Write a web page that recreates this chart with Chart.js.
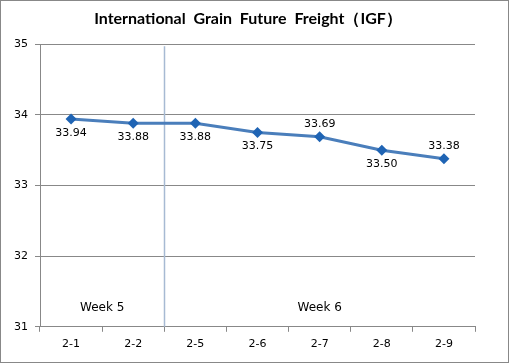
<!DOCTYPE html>
<html>
<head>
<meta charset="utf-8">
<script src="https://cdn.jsdelivr.net/npm/chart.js@4/dist/chart.umd.min.js"></script>
<style>
  html, body { margin: 0; padding: 0; background: #fff; }
  #wrap { position: relative; width: 509px; height: 363px; }
</style>
</head>
<body>
<div id="wrap"><canvas id="c" width="509" height="363"></canvas></div>
<script>
const categories = ['2-1', '2-2', '2-5', '2-6', '2-7', '2-8', '2-9'];
const igfValues = [33.94, 33.88, 33.88, 33.75, 33.69, 33.50, 33.38];
const yTicks = [31, 32, 33, 34, 35];
const labelSide = ['below', 'below', 'below', 'below', 'above', 'below', 'above'];
const weekLabels = ['Week 5', 'Week 6'];
const titleText = 'International  Grain  Future  Freight（IGF）';

const overlay = {
  id: 'overlay',
  beforeDraw(chart) {
    const ctx = chart.ctx;
    ctx.save();
    ctx.fillStyle = '#fff';
    ctx.fillRect(0, 0, chart.width, chart.height);
    ctx.restore();
  },
  beforeDatasetsDraw(chart) {
    const ctx = chart.ctx;
    const x = chart.scales.x, y = chart.scales.y;
    const sepX = (x.getPixelForValue(1) + x.getPixelForValue(2)) / 2;
    ctx.save();
    ctx.strokeStyle = '#a7bad3';
    ctx.lineWidth = 1.5;
    ctx.beginPath();
    ctx.moveTo(Math.round(sepX) + 0.5, y.getPixelForValue(35) + 2);
    ctx.lineTo(Math.round(sepX) + 0.5, y.getPixelForValue(31));
    ctx.stroke();
    ctx.fillStyle = '#000';
    ctx.font = '12px "DejaVu Sans", Verdana, sans-serif';
    ctx.textAlign = 'center';
    ctx.textBaseline = 'middle';
    const wy = y.getPixelForValue(31.27);
    ctx.fillText(weekLabels[0], (x.left + sepX) / 2, wy);
    ctx.fillText(weekLabels[1], (sepX + x.right) / 2, wy);
    ctx.restore();
  },
  afterDatasetsDraw(chart) {
    const ctx = chart.ctx;
    const meta = chart.getDatasetMeta(0);
    ctx.save();
    ctx.fillStyle = '#000';
    ctx.font = '11px "DejaVu Sans", Verdana, sans-serif';
    ctx.textAlign = 'center';
    ctx.textBaseline = 'middle';
    meta.data.forEach((pt, i) => {
      const dy = labelSide[i] === 'above' ? -13 : 14;
      ctx.fillText(igfValues[i].toFixed(2), pt.x, pt.y + dy);
    });
    ctx.restore();
  },
  afterDraw(chart) {
    const ctx = chart.ctx;
    ctx.save();
    ctx.fillStyle = '#000';
    ctx.font = 'bold 16px Lato, "Open Sans", sans-serif';
    ctx.textAlign = 'center';
    ctx.textBaseline = 'middle';
    ctx.fillText(titleText, 248, 18.5);
    ctx.strokeStyle = '#888';
    ctx.lineWidth = 1;
    ctx.strokeRect(0.5, 0.5, chart.width - 1, chart.height - 1);
    ctx.restore();
  }
};

new Chart(document.getElementById('c'), {
  type: 'line',
  data: {
    labels: categories,
    datasets: [{
      data: igfValues,
      borderColor: '#4a7ebb',
      borderWidth: 3,
      backgroundColor: '#1f64b4',
      pointStyle: 'rectRot',
      pointRadius: 5.5,
      pointBorderWidth: 0,
      pointBackgroundColor: '#1f64b4',
      pointHoverRadius: 5.5,
      tension: 0,
      fill: false
    }]
  },
  options: {
    responsive: false,
    animation: false,
    events: [],
    layout: { padding: { left: 0, right: 34, top: 0, bottom: 6 } },
    plugins: {
      legend: { display: false },
      tooltip: { enabled: false },
      title: {
        display: true,
        text: titleText,
        color: 'rgba(0,0,0,0)',
        font: { family: 'Lato, "Open Sans", sans-serif', size: 16, weight: 'bold' },
        padding: { top: 9, bottom: 16 }
      }
    },
    scales: {
      x: {
        type: 'category',
        offset: true,
        grid: {
          offset: true,
          drawOnChartArea: false,
          drawTicks: true,
          tickLength: 5,
          color: '#888'
        },
        border: { display: true, color: '#888', width: 1 },
        ticks: {
          color: '#000',
          font: { family: '"DejaVu Sans", Verdana, sans-serif', size: 11 },
          padding: 6,
          maxRotation: 0,
          autoSkip: false
        }
      },
      y: {
        min: 31,
        max: 35,
        afterFit(scale) { scale.width = 40; },
        afterBuildTicks(scale) { scale.ticks = yTicks.map(v => ({ value: v })); },
        grid: {
          color: '#888',
          tickLength: 5,
          drawTicks: true
        },
        border: { display: true, color: '#888', width: 1 },
        ticks: {
          color: '#000',
          font: { family: '"DejaVu Sans", Verdana, sans-serif', size: 11 },
          padding: 7,
          callback: v => String(v)
        }
      }
    }
  },
  plugins: [overlay]
});
</script>
</body>
</html>
